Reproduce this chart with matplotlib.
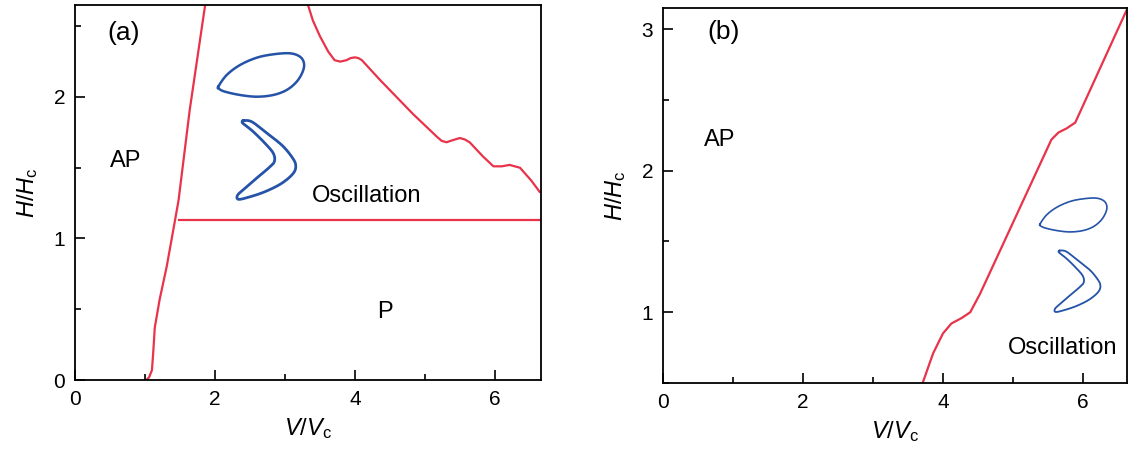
import matplotlib
matplotlib.use('Agg')
import matplotlib.pyplot as plt
import numpy as np
from matplotlib.ticker import MultipleLocator

plt.rcParams['font.family'] = ['Liberation Sans', 'DejaVu Sans']
plt.rcParams['mathtext.fontset'] = 'custom'
plt.rcParams['mathtext.rm'] = 'Liberation Sans'
plt.rcParams['mathtext.it'] = 'Liberation Sans:italic'

# Datos
# (a) frontera AP / resto
va_izq = [1.02, 1.06, 1.10, 1.12, 1.14, 1.21, 1.31, 1.43, 1.48, 1.56, 1.64, 1.75, 1.86]
ha_izq = [0.00, 0.02, 0.07, 0.21, 0.37, 0.57, 0.80, 1.13, 1.27, 1.59, 1.91, 2.28, 2.65]
# (a) frontera P / Oscillation
va_hor = [1.48, 6.66]
ha_hor = [1.13, 1.13]
# (a) frontera superior de Oscillation
va_sup = [3.33, 3.40, 3.50, 3.62, 3.71, 3.79, 3.88, 3.94, 4.00, 4.05, 4.10, 4.36, 4.83,
          5.17, 5.24, 5.31, 5.40, 5.50, 5.57, 5.64, 5.83, 5.98, 6.10, 6.21, 6.36, 6.52, 6.64]
ha_sup = [2.65, 2.54, 2.43, 2.32, 2.26, 2.25, 2.26, 2.275, 2.28, 2.275, 2.26, 2.12, 1.88,
          1.72, 1.69, 1.68, 1.695, 1.71, 1.70, 1.68, 1.58, 1.51, 1.51, 1.52, 1.50, 1.41, 1.33]
# (b) frontera AP / Oscillation
vb = [3.71, 3.86, 4.00, 4.12, 4.27, 4.39, 4.53, 5.55, 5.65, 5.77, 5.89, 6.62]
hb = [0.50, 0.71, 0.85, 0.92, 0.96, 1.00, 1.13, 2.22, 2.27, 2.30, 2.34, 3.13]

# Contornos de las figuritas (coordenadas locales en píxeles, y hacia abajo)
gota_x = [8.3, 16.7, 30, 46.7, 63.3, 80, 90, 94, 92.7, 86.7, 76.7, 63.3, 46.7, 30, 15, 9.3]
gota_y = [41.7, 30, 20, 12.7, 9.3, 8.3, 11.7, 18.3, 26.7, 36.7, 45, 50, 51.7, 50, 46.7, 44]
boom_x = [33.3, 41.7, 55, 71.7, 81.7, 85.7, 83.3, 71.7, 55, 38.3, 28.3, 27.7,
          35, 48.3, 58.3, 64.3, 63.3, 55, 43.3, 35, 32.3]
boom_y = [75.7, 76.7, 86.7, 100, 111.7, 120, 128.3, 138.3, 146.7, 152.3, 154.3, 150,
          143.3, 131.7, 123.3, 116.7, 108.3, 98.3, 86.7, 80, 77.7]

rojo = '#e8334a'
azul = '#2453a8'


def catmull_rom_cerrado(x, y, n=20):
    p = np.column_stack([x, y])
    m = len(p)
    salida = []
    for i in range(m):
        p0, p1, p2, p3 = p[i - 1], p[i], p[(i + 1) % m], p[(i + 2) % m]
        t = np.linspace(0, 1, n, endpoint=False)[:, None]
        c = 0.5 * ((2 * p1) + (-p0 + p2) * t + (2 * p0 - 5 * p1 + 4 * p2 - p3) * t ** 2
                   + (-p0 + 3 * p1 - 3 * p2 + p3) * t ** 3)
        salida.append(c)
    salida.append(p[:1])
    s = np.vstack(salida)
    return s[:, 0], s[:, 1]


def estilo(ax):
    ax.tick_params(which='both', direction='in', labelsize=15, width=1.2, pad=7)
    ax.tick_params(which='major', length=7)
    ax.tick_params(which='minor', length=4)
    for s in ax.spines.values():
        s.set_linewidth(1.3)
    ax.xaxis.set_major_locator(MultipleLocator(2))
    ax.xaxis.set_minor_locator(MultipleLocator(1))
    ax.yaxis.set_major_locator(MultipleLocator(1))
    ax.yaxis.set_minor_locator(MultipleLocator(0.5))
    ax.set_xlabel(r'$V/V_\mathrm{c}$', fontsize=17, labelpad=5)
    ax.set_ylabel(r'$H/H_\mathrm{c}$', fontsize=17, labelpad=10)


def figuritas(fig, x0, y0, escala, lw):
    # x0, y0: esquina superior izquierda en píxeles de la figura
    W, H = 1128, 450
    w, h = 100 * escala, 160 * escala
    ins = fig.add_axes([x0 / W, (H - y0 - h) / H, w / W, h / H])
    ins.set_xlim(0, 100)
    ins.set_ylim(160, 0)
    ins.axis('off')
    gx, gy = catmull_rom_cerrado(gota_x, gota_y)
    bx, by = catmull_rom_cerrado(boom_x, boom_y)
    ins.plot(gx, gy, color=azul, lw=lw)
    ins.plot(bx, by, color=azul, lw=lw * 1.1)


fig = plt.figure(figsize=(11.28, 4.5), dpi=100)
axa = fig.add_axes([75 / 1128, 70 / 450, 466 / 1128, 375 / 450])
axb = fig.add_axes([663 / 1128, 67 / 450, 464 / 1128, 375 / 450])

# Panel (a)
axa.plot(va_izq, ha_izq, color=rojo, lw=1.6)
axa.plot(va_hor, ha_hor, color=rojo, lw=1.6)
axa.plot(va_sup, ha_sup, color=rojo, lw=1.6)
axa.set_xlim(0, 6.66)
axa.set_ylim(0, 2.65)
estilo(axa)
axa.text(0.69, 2.45, '(a)', fontsize=19, ha='center', va='center')
axa.text(0.73, 1.55, 'AP', fontsize=17, ha='center', va='center')
axa.text(4.17, 1.30, 'Oscillation', fontsize=17, ha='center', va='center')
axa.text(4.43, 0.48, 'P', fontsize=17, ha='center', va='center')

# Panel (b)
axb.plot(vb, hb, color=rojo, lw=1.6)
axb.set_xlim(0, 6.63)
axb.set_ylim(0.5, 3.15)
estilo(axb)
axb.text(0.86, 2.98, '(b)', fontsize=19, ha='center', va='center')
axb.text(0.81, 2.22, 'AP', fontsize=17, ha='center', va='center')
axb.text(5.71, 0.75, 'Oscillation', fontsize=17, ha='center', va='center')

figuritas(fig, 210, 45, 1.0, 1.8)
figuritas(fig, 1033.5, 191.6, 0.78, 1.2)

fig.savefig('out.png', dpi=100)
